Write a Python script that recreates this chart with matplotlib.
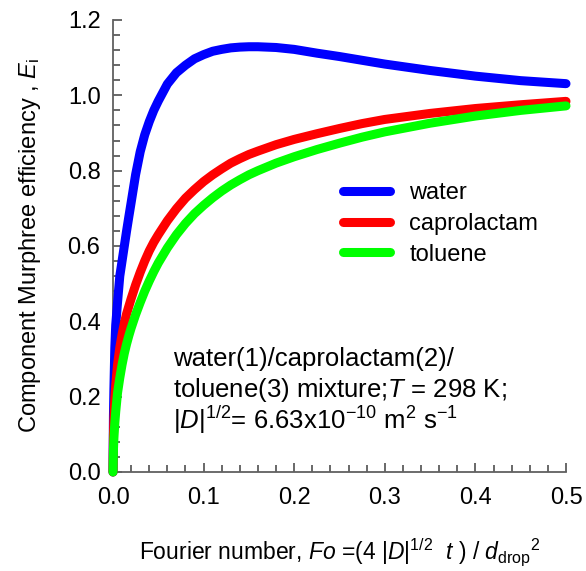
import numpy as np
import matplotlib
matplotlib.use("Agg")
import matplotlib.pyplot as plt
from matplotlib.ticker import MultipleLocator, FormatStrFormatter

plt.rcParams['font.family'] = ['Liberation Sans', 'DejaVu Sans']
plt.rcParams['mathtext.fontset'] = 'custom'
plt.rcParams['mathtext.rm'] = 'Liberation Sans'
plt.rcParams['mathtext.it'] = 'Liberation Sans:italic'

# Fourier number values
fo = [0, 0.0005, 0.001, 0.002, 0.003, 0.005, 0.0075, 0.01, 0.0125, 0.015, 0.0175,
      0.02, 0.025, 0.03, 0.035, 0.04, 0.045, 0.05, 0.06, 0.07, 0.08, 0.09, 0.1,
      0.11, 0.12, 0.13, 0.14, 0.15, 0.16, 0.18, 0.2, 0.225, 0.25, 0.275, 0.3,
      0.35, 0.4, 0.45, 0.5]

e_water = [0, 0.15, 0.22, 0.33, 0.39, 0.45, 0.52, 0.56, 0.60, 0.64, 0.678,
           0.715, 0.79, 0.85, 0.895, 0.93, 0.96, 0.985, 1.03, 1.06, 1.08, 1.097,
           1.108, 1.117, 1.122, 1.126, 1.128, 1.129, 1.129, 1.127, 1.122, 1.112,
           1.103, 1.093, 1.083, 1.066, 1.051, 1.039, 1.031]
e_caprolactam = [0, 0.10, 0.14, 0.195, 0.23, 0.285, 0.33, 0.365, 0.395, 0.42,
                 0.44, 0.46, 0.497, 0.53, 0.56, 0.587, 0.61, 0.63, 0.667, 0.699,
                 0.727, 0.75, 0.771, 0.789, 0.805, 0.82, 0.832, 0.843, 0.852,
                 0.869, 0.883, 0.898, 0.912, 0.925, 0.936, 0.952, 0.965, 0.975,
                 0.984]
e_toluene = [0, 0.06, 0.09, 0.13, 0.16, 0.21, 0.25, 0.285, 0.315, 0.34, 0.362,
             0.382, 0.418, 0.45, 0.48, 0.507, 0.532, 0.555, 0.595, 0.63, 0.66,
             0.686, 0.708, 0.728, 0.746, 0.762, 0.776, 0.789, 0.80, 0.82, 0.837,
             0.856, 0.873, 0.889, 0.903, 0.926, 0.945, 0.96, 0.972]

names = ["water", "caprolactam", "toluene"]
colors = ["#0000ff", "#ff0000", "#00ff00"]

fig = plt.figure(figsize=(5.86, 5.71), dpi=100)
ax = fig.add_axes([113/586, 1-472/571, 453/586, 452/571])

for y, name, c in zip([e_water, e_caprolactam, e_toluene], names, colors):
    ax.plot(fo, y, color=c, lw=6.5, label=name, solid_capstyle='round',
            solid_joinstyle='round', clip_on=False, zorder=3)

ax.set_xlim(0, 0.5)
ax.set_ylim(0, 1.2)
ax.xaxis.set_major_locator(MultipleLocator(0.1))
ax.xaxis.set_minor_locator(MultipleLocator(0.02))
ax.yaxis.set_major_locator(MultipleLocator(0.2))
ax.yaxis.set_minor_locator(MultipleLocator(0.04))
ax.xaxis.set_major_formatter(FormatStrFormatter('%.1f'))
ax.yaxis.set_major_formatter(FormatStrFormatter('%.1f'))

for s in ['top', 'right']:
    ax.spines[s].set_visible(False)
for s in ['left', 'bottom']:
    ax.spines[s].set_color('#606060')
    ax.spines[s].set_linewidth(1.3)

ax.tick_params(which='both', direction='in', colors='#404040', labelcolor='black',
               labelsize=17)
ax.tick_params(which='major', length=6.5, width=1.1)
ax.tick_params(which='minor', length=4.8, width=1.1)
ax.tick_params(axis='x', pad=11)
ax.tick_params(axis='y', pad=9)

ax.set_xlabel(r"Fourier number, $Fo$ =(4 |$D$|$^{1/2}$  $t$ ) / $d_{\mathrm{drop}}$$^{2}$",
              fontsize=16.5, labelpad=20)
ax.set_ylabel(r"Component Murphree efficiency , $E_{\mathrm{i}}$", fontsize=17,
              labelpad=18)

ax.legend(loc='upper left', bbox_to_anchor=(0.508, 0.642), frameon=False,
          fontsize=17, handlelength=2.0, handletextpad=0.8, labelspacing=0.38,
          borderpad=0, borderaxespad=0)

ax.text(0.132, 0.2345, "water(1)/caprolactam(2)/", transform=ax.transAxes,
        fontsize=18.5, va='baseline')
ax.text(0.132, 0.166, r"toluene(3) mixture;$T$ = 298 K;", transform=ax.transAxes,
        fontsize=18.5, va='baseline')
ax.text(0.132, 0.096, r"|$D$|$^{1/2}$= 6.63x10$^{-10}$ m$^{2}$ s$^{-1}$",
        transform=ax.transAxes, fontsize=18.5, va='baseline')

fig.savefig("out.png", dpi=100)
